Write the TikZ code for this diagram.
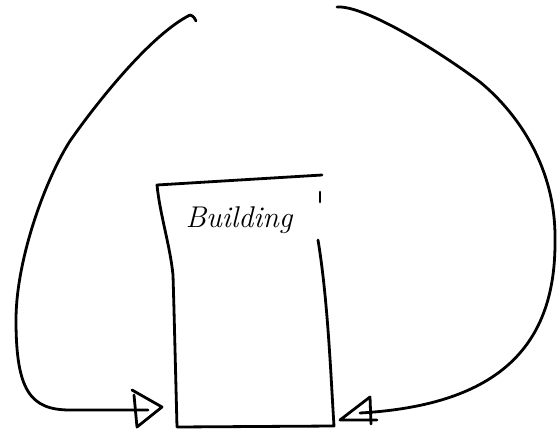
\documentclass[tikz,border=0pt]{standalone}
\usepackage{fontspec}
\setmainfont{Latin Modern Roman}
\begin{document}
\begin{tikzpicture}[x=1pt,y=-1pt,
  ink/.style={line width=2.8pt,line cap=round,line join=round,black}]
\useasboundingbox (0,0) rectangle (558,432);
% building outline
\coordinate (btl) at (157,185);
\coordinate (btr) at (322,175);
\coordinate (bbl) at (177,427);
\coordinate (bbr) at (334,426);
\draw[ink] (btr) -- (btl) .. controls (160,215) and (170,245) .. (173,275) -- (174,310) -- (bbl) -- (bbr)
   .. controls (331,380) and (328,300) .. (318,240);
\draw[ink] (320,192) -- (320,202);
\node[font=\fontsize{30}{33}\selectfont\itshape] (label) at (239,220) {Building};
% left path and arrow
\coordinate (ltop) at (190,15);
\coordinate (lend) at (148,410);
\draw[ink] (ltop) .. controls (194,16) and (195,19) .. (196,21);
\draw[ink] (ltop) .. controls (150,35) and (95,105) .. (70,141)
  .. controls (45,180) and (16,260) .. (16,320)
  .. controls (16,390) and (30,410) .. (70,410) -- (lend);
\draw[ink] (132,390) -- (162,407) -- (137,427) -- (134,395);
% right path and arrow
\coordinate (rtop) at (337,7);
\coordinate (rend) at (360,413);
\draw[ink] (rtop) .. controls (365,5) and (440,52) .. (480,82)
  .. controls (520,115) and (556,170) .. (555,240)
  .. controls (556,345) and (500,405) .. (rend);
\draw[ink] (370,397) -- (340,420) -- (377,420);
\draw[ink] (370,397) -- (371,424);
\end{tikzpicture}
\end{document}
